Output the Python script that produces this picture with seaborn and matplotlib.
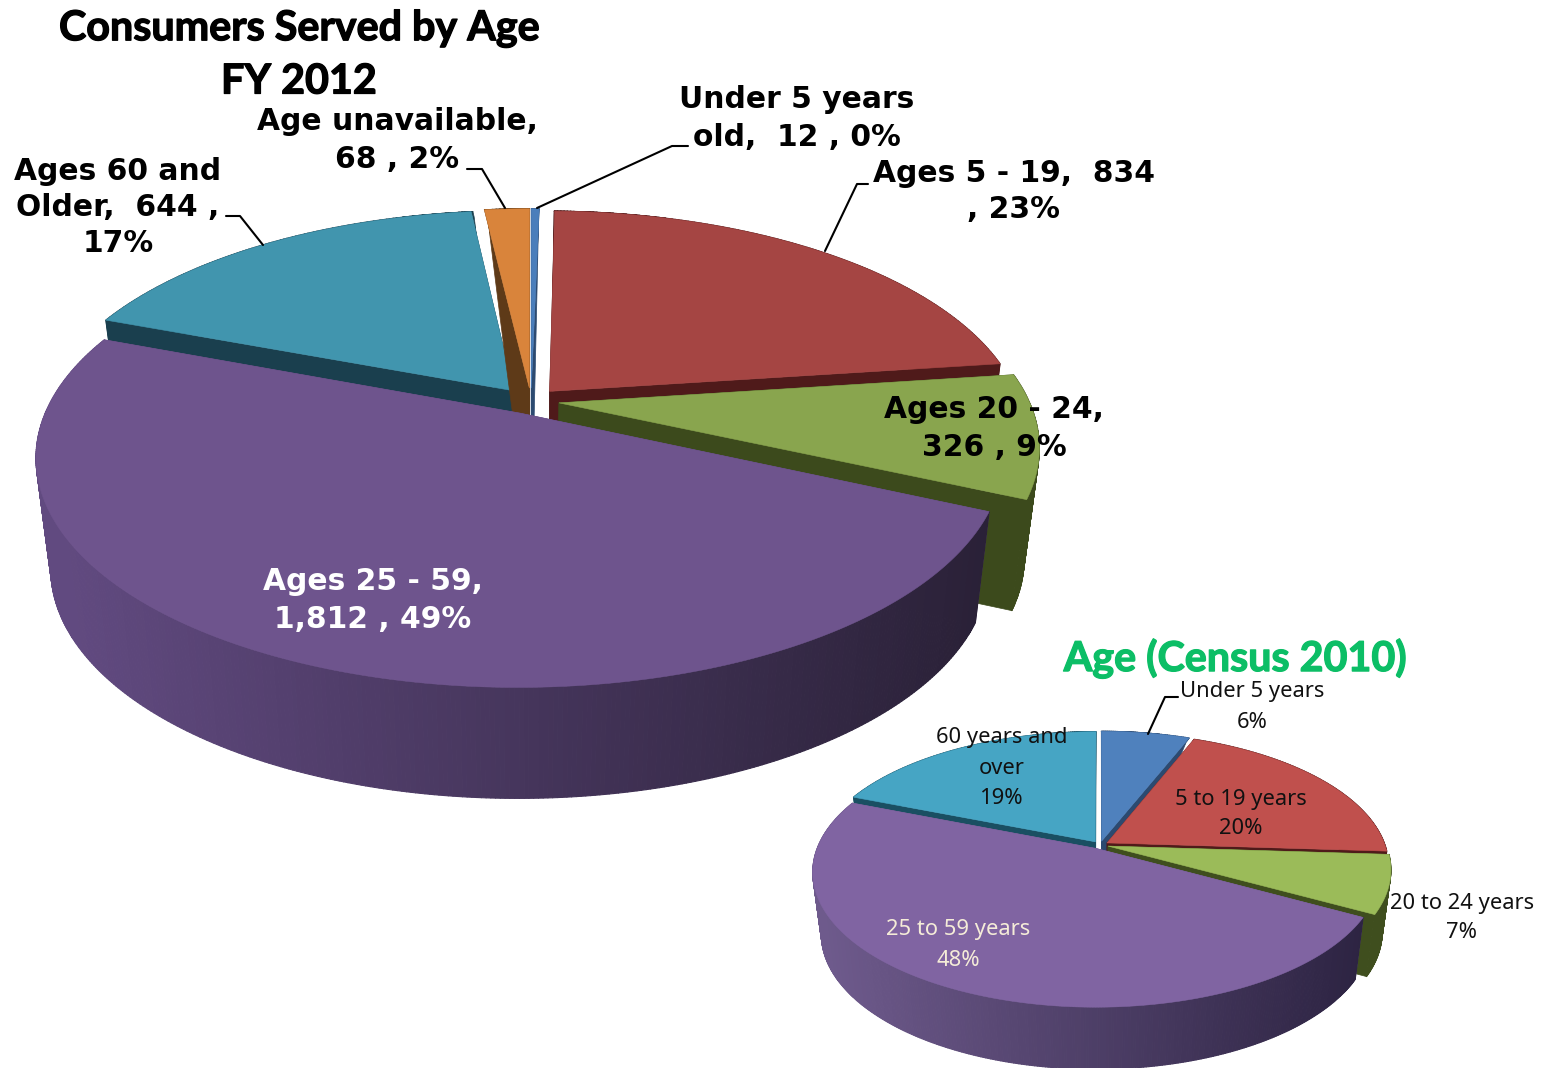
import numpy as np
import seaborn as sns
import matplotlib.pyplot as plt
import matplotlib.patheffects as pe
from matplotlib.collections import PolyCollection

sns.set_theme(style="white")
plt.rcParams['font.family'] = ['DejaVu Sans']

# FY 2012 consumers, clockwise from 12 o'clock
fy_ages = ['Under 5 years old', 'Ages 5 - 19', 'Ages 20 - 24', 'Ages 25 - 59',
           'Ages 60 and Older', 'Age unavailable']
fy_values = [12, 834, 326, 1812, 644, 68]
fy_colors = ['#4A7EBB', '#A54543', '#89A54E', '#6E548D', '#4195AE', '#D9843B']
fy_shades = [('#2C4A70', '#2C4A70'), ('#4F1A1A', '#4F1A1A'),
             ('#3C4A1C', '#3C4A1C'), ('#614A80', '#292036'),
             ('#1A3F4E', '#1A3F4E'), ('#5E3A18', '#5E3A18')]

# Census 2010
census_ages = ['Under 5 years', '5 to 19 years', '20 to 24 years',
               '25 to 59 years', '60 years and over']
census_values = [6, 20, 7, 48, 19]
census_colors = ['#4F81BD', '#C0504D', '#9BBB59', '#8064A2', '#46A5C4']
census_shades = [('#2C4A70', '#2C4A70'), ('#4F1A1A', '#4F1A1A'),
                 ('#3F4E1E', '#3F4E1E'), ('#6E5A8C', '#2B2240'),
                 ('#1A4F62', '#1A4F62')]

# order the slices get painted in, back to front
fy_order = [4, 5, 0, 1, 2, 3]
census_order = [4, 0, 1, 2, 3]


def project(x, y, geo, z=0.0):
    s = 1 / (1 + geo['k'] * y)
    sx = geo['cx'] + geo['b'] * x * s * (1 - 0.03 * z)
    drop = z * geo['depth'] * np.clip((1 - y) / 0.7, 0, 1)
    sy = geo['cy'] - geo['a'] * y * s + drop
    return sx, sy


def draw_pie(ax, values, colors, shades, order, geo):
    edges = np.cumsum([0] + list(values)) / sum(values) * 2 * np.pi
    for i in order:
        t0, t1 = edges[i], edges[i + 1]
        mid = (t0 + t1) / 2
        ox, oy = geo['explode'] * np.sin(mid), geo['explode'] * np.cos(mid)
        t = np.linspace(t0, t1, max(int((t1 - t0) * 120), 3))
        rx, ry = ox + np.sin(t), oy + np.cos(t)

        # the two cut faces, from the centre out to the rim
        palette = sns.blend_palette(shades[i], 128)
        for end in (t0, t1):
            r = np.linspace(0, 1, 30)
            ex, ey = ox + r * np.sin(end), oy + r * np.cos(end)
            top = np.column_stack(project(ex, ey, geo))
            low = np.column_stack(project(ex, ey, geo, 1.0))
            ax.fill(np.r_[top[:, 0], low[::-1, 0]],
                    np.r_[top[:, 1], low[::-1, 1]],
                    color=shades[i][0], lw=0.5)

        # outer wall, shaded from left to right
        top = np.column_stack(project(rx, ry, geo))
        low = np.column_stack(project(rx, ry, geo, 1.0))
        quads, faces = [], []
        for j in range(len(t) - 1):
            quads.append([top[j], top[j + 1], low[j + 1], low[j]])
            pos = (top[j, 0] - geo['cx'] + geo['b']) / (2 * geo['b'])
            faces.append(palette[int(np.clip(pos, 0, 1) * 127)])
        ax.add_collection(PolyCollection(quads, facecolors=faces,
                                         edgecolors=faces, linewidths=0.8))

        # top face
        sx, sy = project(np.r_[ox, rx], np.r_[oy, ry], geo)
        ax.fill(sx, sy, color=colors[i], lw=0.4)


def label(ax, x, y, lines, step, **kw):
    for n, line in enumerate(lines):
        ax.text(x, y + n * step, line, ha='center', va='center', **kw)


def main():
    fig = plt.figure(figsize=(15.41, 10.68), dpi=100)
    ax = fig.add_axes([0, 0, 1, 1])
    ax.set_xlim(0, 1541)
    ax.set_ylim(1068, 0)
    ax.set_axis_off()

    fy_geo = dict(cx=531, cy=401, a=217.5, b=470, k=0.188,
                  depth=111, explode=0.06)
    census_geo = dict(cx=1100, cy=845, a=130, b=278, k=0.172,
                      depth=62, explode=0.03)
    draw_pie(ax, fy_values, fy_colors, fy_shades, fy_order, fy_geo)
    draw_pie(ax, census_values, census_colors, census_shades, census_order,
             census_geo)

    # leader lines
    leaders = [([226, 240, 263], [216, 216, 245]),
               ([467, 482, 505], [169, 169, 208]),
               ([537, 672, 688], [208, 146, 146]),
               ([825, 857, 868], [251, 184, 184]),
               ([1148, 1165, 1178], [734, 697, 697])]
    for xs, ys in leaders:
        ax.plot(xs, ys, color='black', lw=1.5)

    title = dict(family='Lato', fontweight='bold', fontsize=29.7)
    heavy = [pe.withStroke(linewidth=0.9, foreground='black')]
    label(ax, 299, 29, ['Consumers Served by Age', 'FY 2012'], 53,
          color='black', path_effects=heavy, **title)
    heavy = [pe.withStroke(linewidth=0.9, foreground='#0CBE66')]
    label(ax, 1235, 659, ['Age (Census 2010)'], 0, color='#0CBE66',
          path_effects=heavy, **title)

    big = dict(fontweight='bold', fontsize=21.4, color='black')
    label(ax, 397, 122, ['Age unavailable,', '68 , 2%'], 37, **big)
    label(ax, 797, 100, ['Under 5 years', 'old,  12 , 0%'], 37, **big)
    label(ax, 1014, 173, ['Ages 5 - 19,  834', ', 23%'], 37, **big)
    label(ax, 118, 171, ['Ages 60 and', 'Older,  644 ,', '17%'], 36.5, **big)
    label(ax, 994, 410, ['Ages 20 - 24,', '326 , 9%'], 37, **big)
    big['color'] = 'white'
    label(ax, 373, 582, ['Ages 25 - 59,', '1,812 , 49%'], 37, **big)

    small = dict(family='Noto Sans', fontsize=15.8, color='#111111')
    label(ax, 1252, 692, ['Under 5 years', '6%'], 30, **small)
    label(ax, 1002, 738, ['60 years and', 'over', '19%'], 30.5, **small)
    label(ax, 1241, 799, ['5 to 19 years', '20%'], 30, **small)
    label(ax, 1462, 903, ['20 to 24 years', '7%'], 30, **small)
    small['color'] = '#F5ECD8'
    label(ax, 958, 930, ['25 to 59 years', '48%'], 30, **small)

    plt.savefig('out.png', dpi=100)


if __name__ == '__main__':
    main()
